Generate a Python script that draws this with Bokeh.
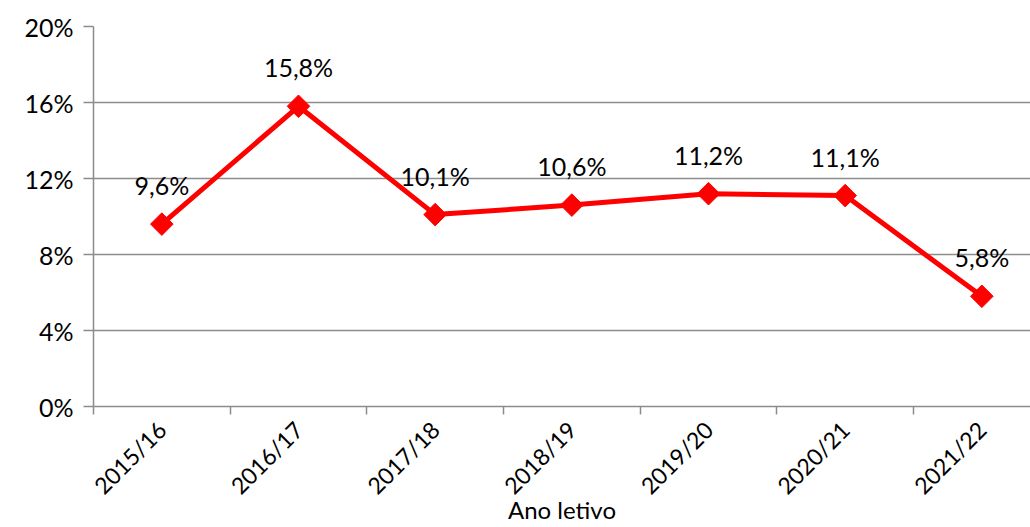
from math import pi
from bokeh.plotting import figure
from bokeh.models import Range1d, FixedTicker, ColumnDataSource
from bokeh.core.properties import value
from bokeh.embed import file_html
from bokeh.resources import INLINE

years = ["2015/16", "2016/17", "2017/18", "2018/19", "2019/20", "2020/21", "2021/22"]
rates = [9.6, 15.8, 10.1, 10.6, 11.2, 11.1, 5.8]
rate_labels = ["9,6%", "15,8%", "10,1%", "10,6%", "11,2%", "11,1%", "5,8%"]
y_ticks = [0, 4, 8, 12, 16, 20]
x_title = "Ano letivo"

FONT = "Lato"
GRID = "#8c8c8c"

xs = list(range(len(years)))
src = ColumnDataSource(dict(x=xs, y=rates, lab=rate_labels))

p = figure(width=1030, height=527, output_backend="svg", toolbar_location=None,
           x_range=Range1d(-0.5, 6.356), y_range=Range1d(0, 20),
           min_border_left=93, min_border_top=26, min_border_right=0,
           min_border_bottom=121)
p.outline_line_color = None
p.background_fill_color = "white"
p.border_fill_color = "white"

# grid
p.xgrid.visible = False
p.ygrid.ticker = FixedTicker(ticks=y_ticks)
p.ygrid.grid_line_color = GRID
p.ygrid.grid_line_width = 1.5

# y axis
p.yaxis.ticker = FixedTicker(ticks=y_ticks)
p.yaxis.major_label_overrides = {t: f"{t}%" for t in y_ticks}
p.yaxis.axis_line_color = GRID
p.yaxis.axis_line_width = 1.5
p.yaxis.major_tick_line_color = GRID
p.yaxis.major_tick_line_width = 1.5
p.yaxis.major_tick_out = 10
p.yaxis.major_tick_in = 0
p.yaxis.minor_tick_line_color = None
p.yaxis.major_label_standoff = 10
p.yaxis.major_label_text_font = FONT
p.yaxis.major_label_text_font_size = "25px"
p.yaxis.major_label_text_color = "black"

# x axis
p.xaxis.ticker = FixedTicker(ticks=xs, minor_ticks=[i - 0.5 for i in range(len(years) + 1)])
p.xaxis.major_label_overrides = {i: y for i, y in enumerate(years)}
p.xaxis.axis_line_color = GRID
p.xaxis.axis_line_width = 1.5
p.xaxis.major_tick_line_color = None
p.xaxis.major_tick_out = 0
p.xaxis.major_tick_in = 0
p.xaxis.minor_tick_line_color = GRID
p.xaxis.minor_tick_line_width = 1.5
p.xaxis.minor_tick_out = 8
p.xaxis.minor_tick_in = 0
p.xaxis.major_label_orientation = pi / 4
p.xaxis.major_label_standoff = 11
p.xaxis.major_label_text_font = FONT
p.xaxis.major_label_text_font_size = "23px"
p.xaxis.major_label_text_color = "black"
p.xaxis.axis_label = x_title
p.xaxis.axis_label_standoff = -17
p.xaxis.axis_label_text_font = FONT
p.xaxis.axis_label_text_font_size = "24px"
p.xaxis.axis_label_text_font_style = "normal"
p.xaxis.axis_label_text_color = "black"

# series
p.line("x", "y", source=src, line_color="#ff0000", line_width=5)
p.scatter("x", "y", source=src, marker="square", angle=pi / 4, size=16,
          fill_color="#ff0000", line_color="#ff0000")
p.text("x", "y", text="lab", source=src, y_offset=-39, text_align="center",
       text_baseline="middle", text_font=value(FONT), text_font_size="25px",
       text_color="black")

open("out.html", "w").write(file_html(p, INLINE))
